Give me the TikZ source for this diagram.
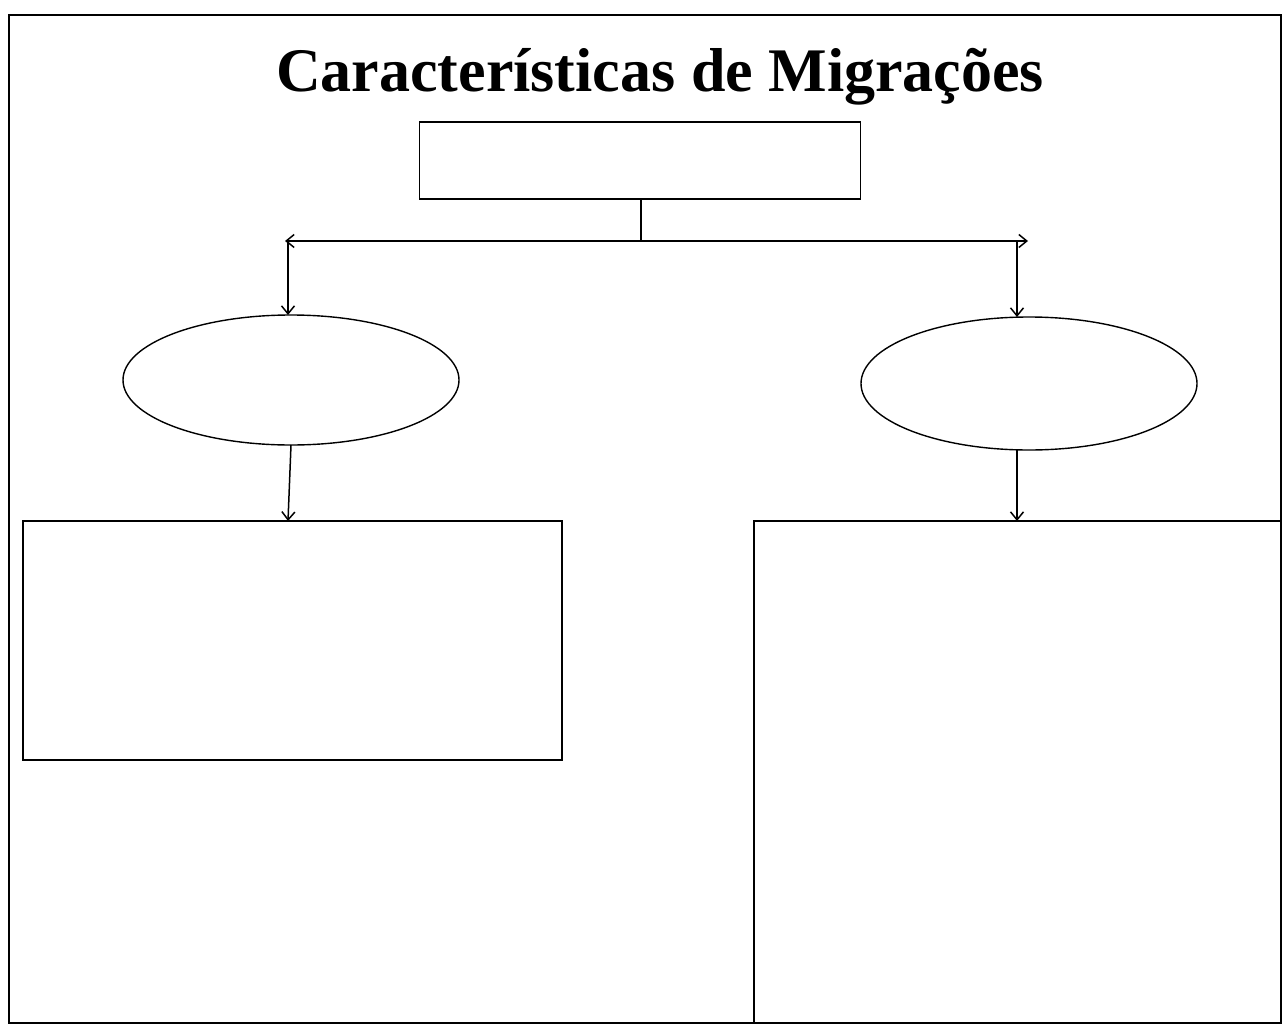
\documentclass[tikz,border=0pt]{standalone}
\usepackage{fontspec}
\setmainfont{Liberation Serif}
\usetikzlibrary{shapes.geometric,arrows.meta}

\tikzset{
  box/.style={draw,rectangle,line width=1.6pt,inner sep=0pt,outer sep=0pt},
  oval/.style={draw,ellipse,line width=1.4pt,inner sep=0pt,outer sep=0pt},
  link/.style={line width=1.5pt,-{Straight Barb[length=8pt,width=13pt]}},
}

\begin{document}
\begin{tikzpicture}[x=1pt,y=-1pt]
\useasboundingbox (0,0) rectangle (1282,1025);
\draw[line width=2.2pt] (9,15) rectangle (1281,1023);
% title
\node[anchor=base] (title) at (660,91) {\fontsize{62}{70}\selectfont\bfseries Características de Migrações};
% boxes and ovals
\node[box,minimum width=441pt,minimum height=77pt] (top) at (640,160.5) {};
\node[oval,minimum width=336pt,minimum height=130pt] (lell) at (291,380) {};
\node[oval,minimum width=336pt,minimum height=133pt] (rell) at (1029,383.5) {};
\node[box,minimum width=539pt,minimum height=239pt] (lbox) at (292.5,640.5) {};
\node[box,minimum width=527pt,minimum height=502pt] (rbox) at (1017.5,772) {};
% branch line
\coordinate (hub) at (641,241);
\coordinate (hl) at (285,241);
\coordinate (hr) at (1028,241);
\coordinate (ldrop) at (288,241);
\coordinate (rdrop) at (1017,241);
\draw[line width=1.5pt] (top.south -| hub) -- (hub);
\draw[link,{Straight Barb[length=8pt,width=13pt]}-{Straight Barb[length=8pt,width=13pt]}] (hl) -- (hr);
\draw[link] (ldrop) -- (ldrop |- lell.north);
\draw[link] (rdrop) -- (rdrop |- rell.north);
\draw[link] (lell.south) -- (ldrop |- lbox.north);
\draw[link] (rdrop |- rell.south) -- (rdrop |- rbox.north);
\end{tikzpicture}
\end{document}
